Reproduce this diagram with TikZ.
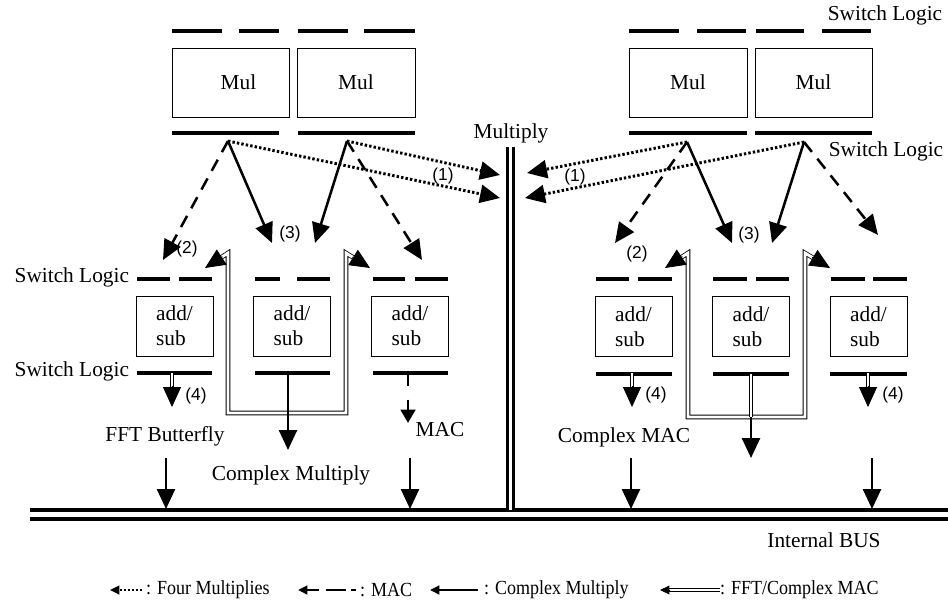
\documentclass[tikz,border=0pt]{standalone}
\usepackage{fontspec}
\setmainfont{Liberation Serif}
\newfontfamily\labelfont{Liberation Sans}
\usetikzlibrary{arrows.meta,calc}

\newcommand\headto[2]{\draw[headonly] ($(#2)!15.6pt!(#1)$) -- (#2);}

\begin{document}
\begin{tikzpicture}[x=0.75pt,y=-0.75pt,
  every node/.style={inner sep=0pt, outer sep=0pt},
  txt/.style={font=\fontsize{16}{19}\selectfont},
  num/.style={font=\labelfont\fontsize{13}{15}\selectfont},
  lgd/.style={font=\fontsize{15}{18}\selectfont, anchor=west},
  mulbox/.style={draw, line width=0.7pt, minimum height=51.75pt, font=\fontsize{16}{19}\selectfont},
  asbox/.style={draw, line width=0.7pt, minimum width=57.75pt, minimum height=45pt, align=left, font=\fontsize{16}{18.75}\selectfont},
  sw/.style={line width=2.3pt},
  sw2/.style={line width=2.5pt},
  tip/.style={-{Triangle[length=15pt,width=13.5pt]}},
  headonly/.style={-{Triangle[length=15pt,width=13.5pt]}, line width=0.6pt},
  solidarrow/.style={line width=1.9pt, tip},
  dasharrow/.style={line width=1.9pt, dash pattern=on 9.5pt off 6.5pt, tip},
  dotarrow/.style={line width=2.2pt, dash pattern=on 1.8pt off 1.6pt, tip},
  thindouble/.style={line width=0.6pt, double, double distance=2.2pt},
  smalltip/.style={-{Triangle[length=7pt,width=6.5pt]}},
 ]
\path[use as bounding box] (0,0) rectangle (948,608);

% ---------------- multiplier blocks ----------------
\node[mulbox, minimum width=87.75pt] (mulA) at (230.5,82.5) {\hspace*{12pt}Mul};
\node[mulbox, minimum width=88.5pt]  (mulB) at (356,82.5) {Mul};
\node[mulbox, minimum width=88.5pt]  (mulC) at (688,82.5) {Mul};
\node[mulbox, minimum width=87.75pt] (mulD) at (813.5,82.5) {Mul};

% switch logic above and below the multipliers
\foreach \a/\b in {172/222, 239/279, 298/348, 364/415, 629/679, 697/746, 756/804, 822/871}
  \draw[sw] (\a,31) -- (\b,31);
\foreach \a/\b in {172/279, 298/415, 629/747, 755/872}
  \draw[sw] (\a,133) -- (\b,133);

\node[txt] (swTop) at (885,15) {Switch Logic};
\node[txt] (swMid) at (886,151) {Switch Logic};
\node[txt] (mulLbl) at (511,133) {Multiply};

% ---------------- add/sub blocks ----------------
\node[asbox] (as1) at (174.5,326) {add/\\sub};
\node[asbox] (as2) at (292,326) {add/\\sub};
\node[asbox] (as3) at (410,326) {add/\\sub};
\node[asbox] (as4) at (633.5,326.5) {add/\\sub};
\node[asbox] (as5) at (751,326.5) {add/\\sub};
\node[asbox] (as6) at (868.5,326.5) {add/\\sub};

\foreach \a/\b in {137/170, 179/212, 255/280, 297/330, 373/405, 415/448,
                   596/629, 638/672, 713/747, 756/789, 831/865, 873/907}
  \draw[sw2] (\a,279) -- (\b,279);
\foreach \a/\b in {137/212, 255/330, 373/448}
  \draw[sw2] (\a,373) -- (\b,373);
\foreach \a/\b in {596/672, 713/789, 830/907}
  \draw[sw2] (\a,374) -- (\b,374);

\node[txt, anchor=east] (swL1) at (129,277) {Switch Logic};
\node[txt, anchor=east] (swL2) at (129,371) {Switch Logic};

% ---------------- buses ----------------
\coordinate (busW) at (30,514.5);
\coordinate (busE) at (948,514.5);
\draw[line width=3pt, double, double distance=3.75pt] (busW) -- (busE);
\coordinate (mTop) at (510.5,147);
\coordinate (mBot) at (510.5,510);
\draw[line width=2.2pt, double, double distance=2.6pt] (mTop) -- (mBot);
\node[txt] (busLbl) at (824,540) {Internal BUS};

% ---------------- multiplier outputs ----------------
\coordinate (pA) at (228,141);
\coordinate (pB) at (347,141);
\coordinate (pC) at (687,142);
\coordinate (pD) at (804,142);

\coordinate (tA1) at (500,198);
\coordinate (tB1) at (500,175);
\coordinate (tC1) at (527,173);
\coordinate (tD1) at (525,198);
\draw[dotarrow] (pA) -- (tA1);
\draw[dotarrow] (pB) -- (tB1);
\draw[dotarrow] (pC) -- (tC1);
\draw[dotarrow] (pD) -- (tD1);

\coordinate (tA2) at (163,260);
\coordinate (tB2) at (422,260);
\coordinate (tC2) at (615,243);
\coordinate (tD2) at (878,235);
\draw[dasharrow] (pA) -- (tA2);
\draw[dasharrow] (pB) -- (tB2);
\draw[dasharrow] (pC) -- (tC2);
\draw[dasharrow] (pD) -- (tD2);

\coordinate (tA3) at (272,243);
\coordinate (tB3) at (315,243);
\coordinate (tC3) at (732,243);
\coordinate (tD3) at (772,243);
\draw[solidarrow] (pA) -- (tA3);
\draw[solidarrow] (pB) -- (tB3);
\draw[solidarrow] (pC) -- (tC3);
\draw[solidarrow] (pD) -- (tD3);

\node[num] (n1a) at (443,176) {(1)};
\node[num] (n1b) at (575,177) {(1)};
\node[num] (n2a) at (187,249) {(2)};
\node[num] (n2b) at (637,254) {(2)};
\node[num] (n3a) at (290,234) {(3)};
\node[num] (n3b) at (749,235) {(3)};

% ---------------- FFT / complex MAC feedback loops ----------------
\coordinate (uL1) at (228,253);
\coordinate (uL2) at (228,413);
\coordinate (uL3) at (346,413);
\coordinate (uL4) at (346,253);
\coordinate (hL1) at (205,268);
\coordinate (hL2) at (370,268);
\draw[thindouble] ($(hL1)!14pt!(uL1)$) -- (uL1) -- (uL2) -- (uL3) -- (uL4) -- ($(hL2)!14pt!(uL4)$);
\headto{uL1}{hL1}
\headto{uL4}{hL2}

\coordinate (uR1) at (688,253);
\coordinate (uR2) at (688,417);
\coordinate (uR3) at (805,417);
\coordinate (uR4) at (805,253);
\coordinate (hR1) at (665,268);
\coordinate (hR2) at (830,268);
\draw[thindouble] ($(hR1)!14pt!(uR1)$) -- (uR1) -- (uR2) -- (uR3) -- (uR4) -- ($(hR2)!14pt!(uR4)$);
\headto{uR1}{hR1}
\headto{uR4}{hR2}

% ---------------- add/sub outputs ----------------
% (4) outputs
\foreach \x/\n in {172/a, 632/b, 868/c}{
  \coordinate (o4\n) at (\x,373);
  \coordinate (t4\n) at (\x,407);
  \draw[thindouble] (o4\n) -- ($(t4\n)+(0,-18)$);
  \headto{o4\n}{t4\n}
}
\node[num] (n4a) at (196,396) {(4)};
\node[num] (n4b) at (656,395) {(4)};
\node[num] (n4c) at (893,395) {(4)};

% complex multiply output (left) and its counterpart (right)
\coordinate (oCM) at (288,373);
\coordinate (tCM) at (288,450);
\draw[solidarrow] (oCM) -- (tCM);
\coordinate (oRM) at (751,374);
\coordinate (jRM) at (751,417);
\coordinate (tRM) at (751,458);
\draw[thindouble] (oRM) -- (jRM);
\draw[solidarrow] (jRM) -- (tRM);

% MAC output
\coordinate (oMAC) at (408,373);
\coordinate (tMAC) at (408,423);
\draw[line width=1.9pt, dash pattern=on 10pt off 10pt, -{Triangle[length=10pt,width=11pt]}] (oMAC) -- (tMAC);

\node[txt] (fftLbl) at (165,436) {FFT Butterfly};
\node[txt] (macLbl) at (440,430) {MAC};
\node[txt] (cmLbl) at (291,475) {Complex Multiply};
\node[txt] (cmacLbl) at (624,437) {Complex MAC};

% ---------------- writes to the internal bus ----------------
\foreach \x/\n in {166/a, 410/b, 631/c, 872/d}{
  \coordinate (bs\n) at (\x,458);
  \coordinate (bt\n) at (\x,509);
  \draw[solidarrow] (bs\n) -- (bt\n);
}

% ---------------- legend ----------------
\coordinate (lg1s) at (142,590);
\coordinate (lg1t) at (110,590);
\draw[line width=1.6pt, dash pattern=on 1.4pt off 1.6pt, smalltip] (lg1s) -- (lg1t);
\node[lgd] (lg1) at (146,590) {\scalebox{0.9}[1]{: Four Multiplies}};

\coordinate (lg2s) at (356,590);
\coordinate (lg2t) at (298,590);
\draw[line width=2pt, dash pattern=on 3.75pt off 3.75pt on 15pt off 5.25pt on 30pt, smalltip] (lg2s) -- (lg2t);
\node[lgd] (lg2) at (360,590) {\scalebox{0.9}[1]{: MAC}};

\coordinate (lg3s) at (478,590);
\coordinate (lg3t) at (430,590);
\draw[line width=1.8pt, smalltip] (lg3s) -- (lg3t);
\node[lgd] (lg3) at (484,590) {\scalebox{0.9}[1]{: Complex Multiply}};

\coordinate (lg4s) at (720,590);
\coordinate (lg4t) at (660,590);
\draw[line width=0.6pt, double, double distance=1.8pt] (lg4s) -- ($(lg4t)+(8,0)$);
\draw[line width=0.6pt, smalltip] ($(lg4t)+(10,0)$) -- (lg4t);
\node[lgd] (lg4) at (720,590) {\scalebox{0.9}[1]{: FFT/Complex MAC}};
\end{tikzpicture}
\end{document}
